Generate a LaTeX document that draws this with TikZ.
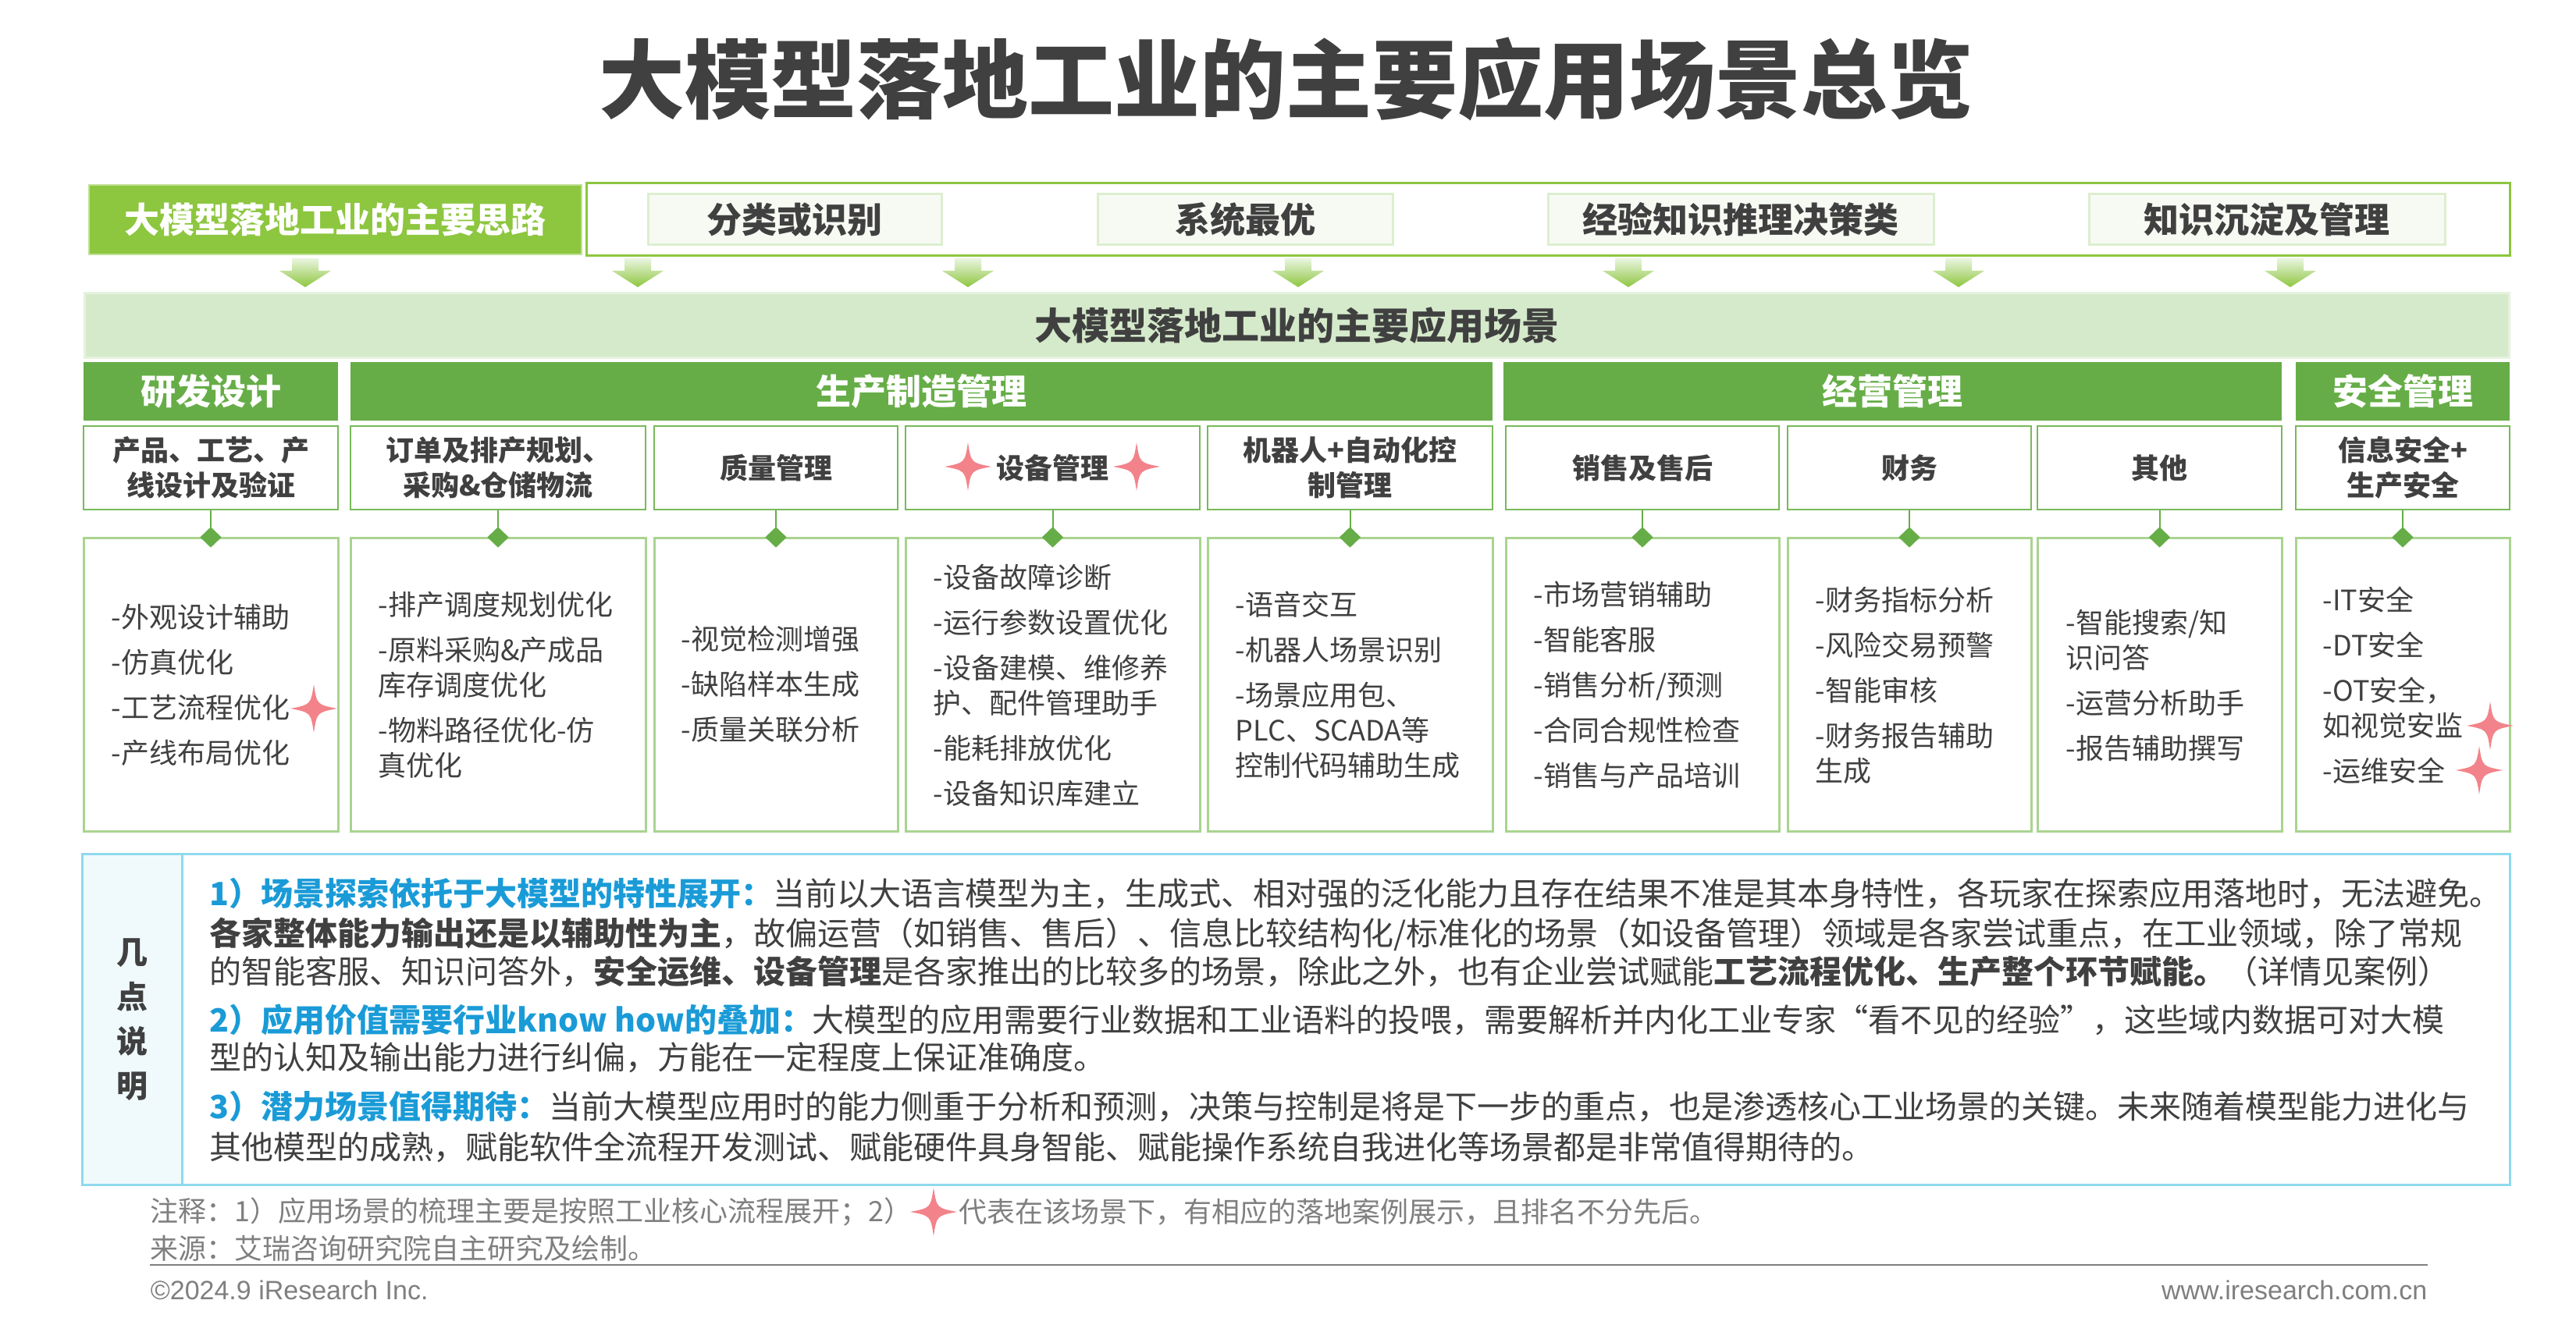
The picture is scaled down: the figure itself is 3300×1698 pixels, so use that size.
\documentclass[tikz,border=0pt]{standalone}
\usepackage{fontspec}
\setmainfont{Noto Sans CJK SC}
\newfontfamily\latinfont{Liberation Sans}
\usetikzlibrary{shapes.geometric}
\definecolor{txt}{HTML}{404040}
\definecolor{lgreen}{HTML}{8DC63F}
\definecolor{dgreen}{HTML}{66AD47}
\definecolor{bandc}{HTML}{D5EACB}
\definecolor{bandb}{HTML}{E6F2DE}
\definecolor{pale}{HTML}{F7FAF3}
\definecolor{paleb}{HTML}{DCEECF}
\definecolor{subb}{HTML}{78B95A}
\definecolor{contb}{HTML}{A9D48F}
\definecolor{bluet}{HTML}{1A9BD7}
\definecolor{cyanb}{HTML}{8FD9EF}
\definecolor{cyanf}{HTML}{F0FAFD}
\definecolor{starc}{HTML}{F3838A}
\definecolor{grayt}{HTML}{7F7F7F}
\definecolor{arrtop}{HTML}{EAF5E0}
\tikzset{
  place/.style args={#1,#2,#3,#4}{at={({(#1+#3)/2},{(#2+#4)/2})},
     minimum width={(#3-#1)*0.25pt}, minimum height={(#4-#2)*0.25pt}},
  frame/.style={draw=lgreen, line width=0.75pt, fill=white, inner sep=0},
  mainbox/.style={fill=lgreen, draw=lgreen!55, line width=0.5pt, text=white, inner sep=0,
    font=\bfseries\fontsize{11.25pt}{14pt}\selectfont},
  idea/.style={fill=pale, draw=paleb, line width=0.75pt, text=txt, inner sep=0,
    font=\bfseries\fontsize{11.25pt}{14pt}\selectfont},
  bandbox/.style={fill=bandc, draw=bandb, line width=0.75pt, text=txt, inner sep=0,
    font=\bfseries\fontsize{12pt}{14pt}\selectfont},
  cat/.style={fill=dgreen, text=white, inner sep=0,
    font=\bfseries\fontsize{11.25pt}{14pt}\selectfont},
  sub/.style={draw=subb, line width=0.5pt, fill=white, text=txt, align=center, inner sep=0,
    font=\bfseries\fontsize{9pt}{11.25pt}\selectfont},
  cont/.style={draw=contb, line width=0.75pt, fill=white, inner sep=0},
  item/.style={anchor=west, align=left, text=txt, inner sep=0,
    font=\fontsize{9pt}{11.25pt}\selectfont},
  conn/.style={draw=dgreen, line width=0.5pt},
  dia/.style={diamond, fill=dgreen, inner sep=0, minimum width=7pt, minimum height=6.75pt},
  expl/.style={anchor=west, text=txt, inner sep=0, font=\fontsize{10.25pt}{12pt}\selectfont},
  foot/.style={anchor=west, text=grayt, inner sep=0, font=\fontsize{9pt}{11pt}\selectfont},
  spark/.pic={\fill[starc] (0,-31) .. controls (4,-5) .. (30,0) .. controls (4,5) .. (0,31)
     .. controls (-4,5) .. (-30,0) .. controls (-4,-5) .. (0,-31) -- cycle;}
}
\newcommand{\ig}{\\[3.25pt]}
\begin{document}
\begin{tikzpicture}[x=0.25pt,y=-0.25pt]
\useasboundingbox (0,0) rectangle (3300,1698);

% title
\node[text=txt, inner sep=0, font=\bfseries\fontsize{27.5pt}{30pt}\selectfont] (title) at (1647,101) {大模型落地工业的主要应用场景总览};

% top row
\node[frame, place={751,235,3215,328}] (frm) {};
\node[mainbox, place={114,237,745,326}] (mainidea) {大模型落地工业的主要思路};
\node[idea, place={830,249,1206,314}] (i1) {分类或识别};
\node[idea, place={1406,249,1784,314}] (i2) {系统最优};
\node[idea, place={1983,249,2477,314}] (i3) {经验知识推理决策类};
\node[idea, place={2676,249,3132,314}] (i4) {知识沉淀及管理};

% block arrows
\foreach \ax in {391,817,1240,1663,2086,2509,2934}{
  \shade[top color=arrtop, bottom color=lgreen]
    (\ax-17,331) -- (\ax+17,331) -- (\ax+17,347) -- (\ax+33,347) -- (\ax,368)
    -- (\ax-33,347) -- (\ax-17,347) -- cycle;
}

% band
\node[bandbox, place={108,376,3214,459}] (band) {大模型落地工业的主要应用场景};

% category headers
\node[cat, place={107,464,433,539}] (k1) {研发设计};
\node[cat, place={449,464,1912,539}] (k2) {生产制造管理};
\node[cat, place={1926,464,2923,539}] (k3) {经营管理};
\node[cat, place={2941,464,3215,539}] (k4) {安全管理};

% sub categories
\node[sub, place={107,546,433,653}] (s1) {产品、工艺、产\\线设计及验证};
\node[sub, place={449,546,827,653}] (s2) {订单及排产规划、\\采购\&仓储物流};
\node[sub, place={838,546,1150,653}] (s3) {质量管理};
\node[sub, place={1160,546,1537,653}] (s4) {设备管理};
\node[sub, place={1547,546,1912,653}] (s5) {机器人+自动化控\\制管理};
\node[sub, place={1929,546,2279,653}] (s6) {销售及售后};
\node[sub, place={2290,546,2602,653}] (s7) {财务};
\node[sub, place={2610,546,2923,653}] (s8) {其他};
\node[sub, place={2941,546,3215,653}] (s9) {信息安全+\\生产安全};
\pic at (1240,598) {spark};
\pic at (1456,598) {spark};

% content boxes + connectors
\foreach \i/\xa/\xb in {1/107/433, 2/449/827, 3/838/1150, 4/1160/1537, 5/1547/1912,
                        6/1929/2279, 7/2290/2602, 8/2610/2923, 9/2941/3215}{
  \node[cont, place={\xa,690,\xb,1066}] (c\i) {};
  \draw[conn] (s\i.south) -- (c\i.north);
  \node[dia] (d\i) at (c\i.north) {};
}

% content texts
\node[item] (t1) at (142,878) {-外观设计辅助\ig -仿真优化\ig -工艺流程优化\ig -产线布局优化};
\pic at (402,908) {spark};
\node[item] (t2) at (484,878) {-排产调度规划优化\ig -原料采购\&产成品\\库存调度优化\ig -物料路径优化-仿\\真优化};
\node[item] (t3) at (872,877) {-视觉检测增强\ig -缺陷样本生成\ig -质量关联分析};
\node[item] (t4) at (1195,878) {-设备故障诊断\ig -运行参数设置优化\ig -设备建模、维修养\\护、配件管理助手\ig -能耗排放优化\ig -设备知识库建立};
\node[item] (t5) at (1582,878) {-语音交互\ig -机器人场景识别\ig -场景应用包、\\PLC、SCADA等\\控制代码辅助生成};
\node[item] (t6) at (1964,878) {-市场营销辅助\ig -智能客服\ig -销售分析/预测\ig -合同合规性检查\ig -销售与产品培训};
\node[item] (t7) at (2325,878) {-财务指标分析\ig -风险交易预警\ig -智能审核\ig -财务报告辅助\\生成};
\node[item] (t8) at (2646,878) {-智能搜索/知\\识问答\ig -运营分析助手\ig -报告辅助撰写};
\node[item] (t9) at (2975,878) {-IT安全\ig -DT安全\ig -OT安全，\\如视觉安监\ig -运维安全};
\pic at (3190,930) {spark};
\pic at (3176,987) {spark};

% explanation box
\node[place={105,1095,3215,1519}, draw=cyanb, line width=0.75pt, fill=white, inner sep=0] (exbox) {};
\node[place={105,1095,233,1519}, draw=cyanb, line width=0.75pt, fill=cyanf, inner sep=0,
      align=center, text=txt, font=\bfseries\fontsize{10pt}{14.25pt}\selectfont] (exhead) {几\\点\\说\\明};
\node[expl] (e1) at (268,1145) {\textcolor{bluet}{\bfseries 1）场景探索依托于大模型的特性展开：}当前以大语言模型为主，生成式、相对强的泛化能力且存在结果不准是其本身特性，各玩家在探索应用落地时，无法避免。};
\node[expl] (e2) at (268,1197) {{\bfseries 各家整体能力输出还是以辅助性为主}，故偏运营（如销售、售后）、信息比较结构化/标准化的场景（如设备管理）领域是各家尝试重点，在工业领域，除了常规};
\node[expl] (e3) at (268,1245) {的智能客服、知识问答外，{\bfseries 安全运维、设备管理}是各家推出的比较多的场景，除此之外，也有企业尝试赋能{\bfseries 工艺流程优化、生产整个环节赋能。}（详情见案例）};
\node[expl] (e4) at (268,1307) {\textcolor{bluet}{\bfseries 2）应用价值需要行业know how的叠加：}大模型的应用需要行业数据和工业语料的投喂，需要解析并内化工业专家“看不见的经验”，这些域内数据可对大模};
\node[expl] (e5) at (268,1355) {型的认知及输出能力进行纠偏，方能在一定程度上保证准确度。};
\node[expl] (e6) at (268,1418) {\textcolor{bluet}{\bfseries 3）潜力场景值得期待：}当前大模型应用时的能力侧重于分析和预测，决策与控制是将是下一步的重点，也是渗透核心工业场景的关键。未来随着模型能力进化与};
\node[expl] (e7) at (268,1470) {其他模型的成熟，赋能软件全流程开发测试、赋能硬件具身智能、赋能操作系统自我进化等场景都是非常值得期待的。};

% footnotes
\node[foot] (fn1) at (192,1553) {注释：1）应用场景的梳理主要是按照工业核心流程展开；2）};
\pic at (1196,1553) {spark};
\node[foot] (fn2) at (1228,1553) {代表在该场景下，有相应的落地案例展示，且排名不分先后。};
\node[foot] (src) at (192,1600) {来源：艾瑞咨询研究院自主研究及绘制。};
\coordinate (fl1) at (192,1621);
\coordinate (fl2) at (3110,1621);
\draw[grayt, line width=0.6pt] (fl1) -- (fl2);
\node[anchor=west, inner sep=0, text=grayt, font=\latinfont\fontsize{8.5pt}{10pt}\selectfont] (copy) at (192,1653) {©2024.9 iResearch Inc.};
\node[anchor=east, inner sep=0, text=grayt, font=\latinfont\fontsize{8.5pt}{10pt}\selectfont] (web) at (3110,1653) {www.iresearch.com.cn};
\end{tikzpicture}
\end{document}
